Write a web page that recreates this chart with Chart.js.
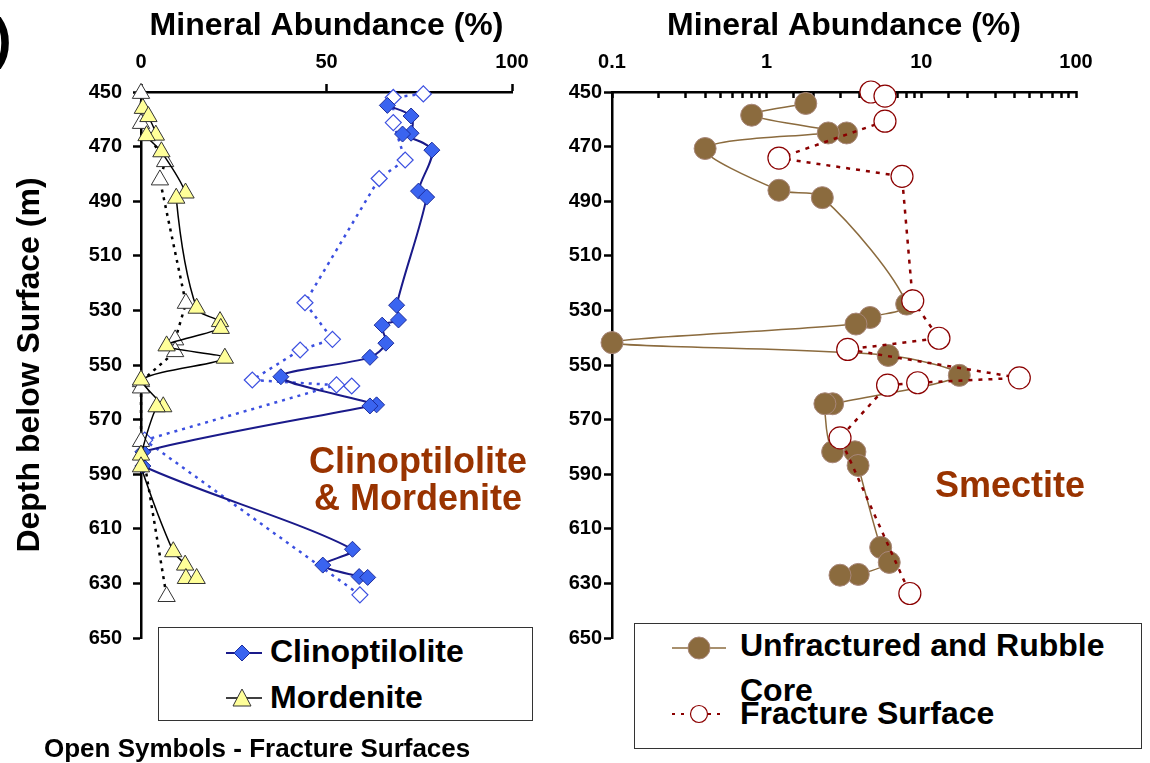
<!DOCTYPE html>
<html>
<head>
<meta charset="utf-8">
<script src="https://cdn.jsdelivr.net/npm/chart.js@4.4.0/dist/chart.umd.min.js"></script>
<style>
  html, body { margin: 0; padding: 0; background: #fff; }
  body { width: 1150px; height: 763px; position: relative; overflow: hidden;
         font-family: 'Liberation Sans', Arial, Helvetica, sans-serif; font-weight: bold; }
  canvas.plot { position: absolute; left: 0; top: 0; }
  .txt { position: absolute; white-space: nowrap; line-height: 1; color: #000; }
  .note { color: #993300; font-size: 36px; text-align: center; width: 300px; }
  .box { position: absolute; border: 1px solid #333; background: #fff; }
  canvas.icon { position: absolute; }
</style>
</head>
<body>
<canvas id="left" class="plot" width="1150" height="763"></canvas>
<canvas id="right" class="plot" width="1150" height="763"></canvas>

<div class="txt" style="left:-7px; top:10px; font-size:56px;">)</div>

<div class="txt note" style="left:268px; top:443px;">Clinoptilolite</div>
<div class="txt note" style="left:268px; top:480px;">&amp; Mordenite</div>
<div class="txt note" style="left:860px; top:467px;">Smectite</div>

<div class="box" style="left:158px; top:627px; width:373px; height:92px;"></div>
<canvas id="icon1" class="icon" width="44" height="24" style="left:220px; top:641px;"></canvas>
<canvas id="icon2" class="icon" width="44" height="28" style="left:220px; top:684px;"></canvas>
<div class="txt" style="left:270px; top:635px; font-size:32px;">Clinoptilolite</div>
<div class="txt" style="left:270px; top:681px; font-size:32px;">Mordenite</div>

<div class="txt" style="left:44px; top:735px; font-size:26px;">Open Symbols - Fracture Surfaces</div>

<div class="box" style="left:634px; top:623px; width:506px; height:124px;"></div>
<canvas id="icon3" class="icon" width="60" height="28" style="left:669px; top:634px;"></canvas>
<canvas id="icon4" class="icon" width="60" height="24" style="left:669px; top:702px;"></canvas>
<div class="txt" style="left:740px; top:629px; font-size:32px;">Unfractured and Rubble</div>
<div class="txt" style="left:740px; top:674px; font-size:32px;">Core</div>
<div class="txt" style="left:740px; top:697px; font-size:32px;">Fracture Surface</div>

<script>
// depth axis and tick labels
const depthTicks = [450, 470, 490, 510, 530, 550, 570, 590, 610, 630, 650];
const pctTicks = [0, 50, 100];
const logTicks = [0.1, 1, 10, 100];

// left panel - clinoptilolite (filled = core, open = fracture surface)
const clinoDepth = [454.9, 458.8, 465.1, 465.4, 471.3, 486.3, 488.5, 528.1, 533.5, 535.4, 542.0, 547.2, 554.3, 564.6, 565.0, 581.8, 587.0, 617.5, 623.3, 627.5, 627.8];
const clinoVal   = [66.4, 72.8, 72.8, 70.5, 78.4, 74.8, 77.0, 68.9, 69.4, 65.0, 66.0, 61.7, 37.7, 63.5, 61.7, 0.5, 0.5, 57.0, 49.0, 58.8, 61.1];
const clinoOpenDepth = [450.7, 452.0, 461.2, 474.9, 481.7, 527.2, 540.6, 544.5, 555.5, 557.7, 557.3, 577.5, 634.2];
const clinoOpenVal   = [76.1, 68.0, 68.0, 71.2, 64.2, 44.2, 51.6, 42.9, 30.0, 56.8, 52.7, 1.0, 59.0];

// left panel - mordenite
const mordDepth = [456.0, 459.0, 465.8, 466.0, 471.9, 487.0, 488.9, 529.2, 534.1, 536.6, 543.0, 547.5, 555.5, 565.3, 565.3, 583.0, 587.3, 618.4, 623.3, 628.2, 628.2];
const mordVal   = [0.5, 2.0, 4.0, 1.5, 5.5, 12.0, 9.5, 15.0, 21.3, 21.5, 6.9, 22.6, 0, 6.0, 4.2, 0, 0, 8.7, 11.9, 12.1, 15.0];
const mordOpenDepth = [450.5, 461.5, 475.5, 482.2, 527.4, 540.8, 545.1, 556.1, 558.4, 578.0, 634.8];
const mordOpenVal   = [0, 0, 6.5, 5.1, 12.1, 9.2, 9.2, 0, 0, 0, 6.9];

// right panel - smectite
const smecDepth = [454.2, 458.5, 465.0, 465.0, 470.7, 486.0, 488.7, 527.7, 532.6, 535.0, 541.8, 546.5, 553.8, 564.2, 564.2, 581.8, 581.8, 586.8, 616.8, 622.3, 626.7, 627.0];
const smecVal   = [1.79, 0.80, 3.29, 2.50, 0.40, 1.20, 2.29, 8.04, 4.66, 3.78, 0.10, 6.10, 17.6, 2.67, 2.38, 2.67, 3.72, 3.90, 5.46, 6.20, 3.91, 2.98];
const fracDepth = [450.0, 451.5, 460.7, 474.2, 480.9, 526.5, 540.2, 544.3, 554.7, 556.5, 557.4, 576.7, 633.7];
const fracVal   = [4.72, 5.82, 5.82, 1.20, 7.50, 8.80, 13.0, 3.34, 43.0, 9.47, 6.05, 2.98, 8.43];

const FONT = "'Liberation Sans', Arial, Helvetica, sans-serif";
Chart.defaults.font.family = FONT;
Chart.defaults.font.weight = 'bold';
Chart.defaults.color = '#000';

const toPts = (xs, ys) => xs.map((x, i) => ({ x: x, y: ys[i] }));

function depthAxis(width, pad, title) {
    return {
        type: 'linear', position: 'left', reverse: true, min: 450, max: 650,
        afterBuildTicks: s => { s.ticks = depthTicks.map(v => ({ value: v })); },
        afterFit: s => { s.width = width; },
        ticks: { font: { size: 20, weight: 'bold' }, padding: pad, color: '#000' },
        grid: { drawOnChartArea: false, tickLength: 8, tickWidth: 2.5, tickColor: '#000' },
        border: { color: '#000', width: 2.5 },
        title: title ? {
            display: true, text: title, color: '#000',
            font: { size: 32, weight: 'bold' }, padding: { top: 11, bottom: 0 }
        } : { display: false }
    };
}

const xTitle = {
    display: true, text: 'Mineral Abundance (%)', color: '#000',
    font: { size: 32, weight: 'bold' }, padding: { top: 7, bottom: 0 }
};

const common = {
    responsive: false,
    animation: false,
    events: [],
    plugins: { legend: { display: false }, tooltip: { enabled: false } },
};

new Chart(document.getElementById('left'), {
    type: 'scatter',
    data: {
        datasets: [
            { label: 'Mordenite', data: toPts(mordVal, mordDepth), showLine: true, clip: false,
              borderColor: '#000', borderWidth: 1.5, tension: 0.3,
              pointStyle: 'triangle', pointRadius: 10, pointBackgroundColor: '#ffff99',
              pointBorderColor: '#333', pointBorderWidth: 1 },
            { label: 'Mordenite - fracture surfaces', data: toPts(mordOpenVal, mordOpenDepth), showLine: true, clip: false,
              borderColor: '#000', borderWidth: 2.5, borderDash: [3, 5],
              pointStyle: 'triangle', pointRadius: 10, pointBackgroundColor: '#fff',
              pointBorderColor: '#333', pointBorderWidth: 1 },
            { label: 'Clinoptilolite', data: toPts(clinoVal, clinoDepth), showLine: true, clip: false,
              borderColor: '#1a1a8a', borderWidth: 2, tension: 0.3,
              pointStyle: 'rectRot', pointRadius: 8, pointBackgroundColor: '#3a64f0',
              pointBorderColor: '#1c2c9c', pointBorderWidth: 1 },
            { label: 'Clinoptilolite - fracture surfaces', data: toPts(clinoOpenVal, clinoOpenDepth), showLine: true, clip: false,
              borderColor: '#3b4fe0', borderWidth: 2.5, borderDash: [3, 5],
              pointStyle: 'rectRot', pointRadius: 8, pointBackgroundColor: '#fff',
              pointBorderColor: '#3b4fe0', pointBorderWidth: 1.2 }
        ]
    },
    options: Object.assign({}, common, {
        layout: { padding: { left: 0, top: 0, right: 638, bottom: 125 } },
        scales: {
            x: {
                type: 'linear', position: 'top', min: 0, max: 100,
                afterBuildTicks: s => { s.ticks = pctTicks.map(v => ({ value: v })); },
                afterFit: s => { s.height = 92; },
                ticks: { font: { size: 20, weight: 'bold' }, padding: 10, maxRotation: 0, color: '#000' },
                grid: { drawOnChartArea: false, tickLength: 8, tickWidth: 2.5, tickColor: '#000' },
                border: { color: '#000', width: 2.5 },
                title: xTitle
            },
            y: depthAxis(141, 11, 'Depth below Surface (m)')
        }
    })
});

new Chart(document.getElementById('right'), {
    type: 'scatter',
    data: {
        datasets: [
            { label: 'Fracture Surface', data: toPts(fracVal, fracDepth), showLine: true, clip: false,
              borderColor: '#8b0000', borderWidth: 2.5, borderDash: [4, 6],
              pointRadius: 11, pointBackgroundColor: '#fff',
              pointBorderColor: '#8b0000', pointBorderWidth: 1.2 },
            { label: 'Unfractured and Rubble Core', data: toPts(smecVal, smecDepth), showLine: true, clip: false,
              borderColor: '#8b6b3e', borderWidth: 1.5, tension: 0.3,
              pointRadius: 11, pointBackgroundColor: '#8b6b3e',
              pointBorderColor: '#a8877a', pointBorderWidth: 1 }
        ]
    },
    options: Object.assign({}, common, {
        layout: { padding: { left: 540, top: 0, right: 74, bottom: 125 } },
        scales: {
            x: {
                type: 'logarithmic', position: 'top', min: 0.1, max: 100,
                afterFit: s => { s.height = 92; },
                ticks: {
                    autoSkip: false, maxRotation: 0, padding: 24, color: '#000',
                    font: { size: 20, weight: 'bold' },
                    callback: v => {
                        const m = logTicks.find(t => Math.abs(t - v) < t * 1e-6);
                        return m === undefined ? '' : String(m);
                    }
                },
                grid: { drawOnChartArea: false, tickLength: -6, tickWidth: 2.5, tickColor: '#000' },
                border: { color: '#000', width: 2.5 },
                title: xTitle
            },
            y: depthAxis(72, 2, null)
        }
    })
});

// legend icons
function icon(id, y, x0, x1, dash, lineColor, lineW, draw) {
    const ctx = document.getElementById(id).getContext('2d');
    ctx.strokeStyle = lineColor;
    ctx.lineWidth = lineW;
    ctx.setLineDash(dash);
    ctx.beginPath(); ctx.moveTo(x0, y); ctx.lineTo(x1, y); ctx.stroke();
    ctx.setLineDash([]);
    draw(ctx);
}
icon('icon1', 12, 6, 42, [], '#1a1a8a', 2, ctx => {
    ctx.beginPath();
    ctx.moveTo(22, 4); ctx.lineTo(30, 12); ctx.lineTo(22, 20); ctx.lineTo(14, 12); ctx.closePath();
    ctx.fillStyle = '#3a64f0'; ctx.fill();
    ctx.strokeStyle = '#1c2c9c'; ctx.lineWidth = 1; ctx.stroke();
});
icon('icon2', 14, 6, 42, [], '#000', 1.5, ctx => {
    ctx.beginPath();
    ctx.moveTo(22, 5); ctx.lineTo(31, 22); ctx.lineTo(13, 22); ctx.closePath();
    ctx.fillStyle = '#ffff99'; ctx.fill();
    ctx.strokeStyle = '#333'; ctx.lineWidth = 1; ctx.stroke();
});
icon('icon3', 14, 3, 57, [], '#8b6b3e', 1.5, ctx => {
    ctx.beginPath(); ctx.arc(30, 14, 11, 0, Math.PI * 2);
    ctx.fillStyle = '#8b6b3e'; ctx.fill();
    ctx.strokeStyle = '#a8877a'; ctx.lineWidth = 1; ctx.stroke();
});
icon('icon4', 12, 3, 57, [3, 6], '#8b0000', 2, ctx => {
    ctx.beginPath(); ctx.arc(30, 12, 8.5, 0, Math.PI * 2);
    ctx.fillStyle = '#fff'; ctx.fill();
    ctx.strokeStyle = '#8b0000'; ctx.lineWidth = 1.2; ctx.stroke();
});
</script>
</body>
</html>
